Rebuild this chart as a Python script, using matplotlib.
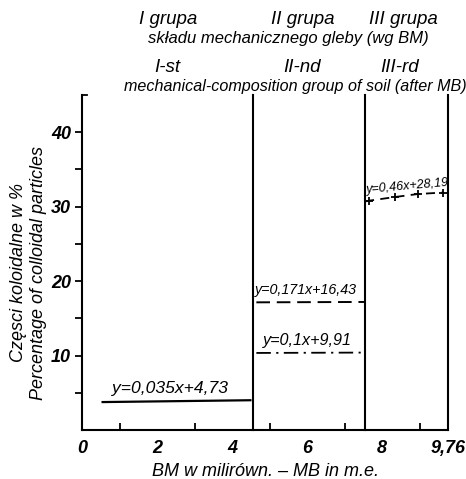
import matplotlib
matplotlib.use("Agg")
import matplotlib.pyplot as plt

plt.rcParams["font.family"] = ["Liberation Sans", "DejaVu Sans"]
plt.rcParams["font.style"] = "italic"

# ---- data ----
x_ticks = [0, 2, 4, 6, 8, 9.76]
x_ticklabels = ["0", "2", "4", "6", "8", "9,76"]
x_minor = [1, 3, 5, 7, 9]
y_ticks = [10, 20, 30, 40]
y_minor = [5, 15, 25, 35]
group_bounds = [4.55, 7.55, 9.76]

g1_x = [0.52, 4.52]
g1_y = [3.75, 4.0]
g2a_x = [4.65, 7.55]
g2a_y = [17.15, 17.2]
g2b_x = [4.65, 7.55]
g2b_y = [10.35, 10.4]
g3_x = [7.55, 7.65, 8.35, 8.96, 9.63]
g3_y = [30.7, 30.8, 31.3, 31.7, 31.9]
g3_mark_x = [7.65, 8.35, 8.96, 9.63]
g3_mark_y = [30.8, 31.3, 31.7, 31.9]

eq1 = "y=0,035x+4,73"
eq2a = "y=0,171x+16,43"
eq2b = "y=0,1x+9,91"
eq3 = "y=0,46x+28,19"

fig = plt.figure(figsize=(4.66, 4.79), dpi=100)
ax = fig.add_axes([82/466, 1-430/479, (448-82)/466, (430-95)/479])
ax.set_xlim(0, 9.76)
ax.set_ylim(0, 45)

lw = 1.5
ax.plot(g1_x, g1_y, color="black", lw=1.6, solid_capstyle="butt")
ax.plot(g2a_x, g2a_y, color="black", lw=1.4, dashes=(7, 3.5))
ax.plot(g2b_x, g2b_y, color="black", lw=1.3, dashes=(8, 3, 1.2, 3))
ax.plot(g3_x, g3_y, color="black", lw=1.3, dashes=(5, 3.5))
ax.plot(g3_mark_x, g3_mark_y, ls="none", marker="+", ms=6, mew=1.3, color="black")

for b in group_bounds:
    ax.plot([b, b], [0, 45], color="black", lw=lw, clip_on=False)

for s in ["top", "right"]:
    ax.spines[s].set_visible(False)
for s in ["left", "bottom"]:
    ax.spines[s].set_linewidth(lw)

ax.set_xticks(x_ticks)
ax.set_xticklabels(x_ticklabels)
ax.set_xticks(x_minor, minor=True)
ax.tick_params(axis="x", which="major", length=0, pad=7)
ax.tick_params(axis="x", which="minor", direction="in", length=5, width=1.3)
ax.set_yticks(y_ticks)
ax.set_yticks(y_minor, minor=True)
ax.tick_params(axis="y", which="both", direction="out", length=5, width=1.3, pad=3)
for lab in ax.get_xticklabels() + ax.get_yticklabels():
    lab.set_fontsize(13)
    lab.set_fontweight("bold")
# top hook of y axis
ax.plot([0, 0.12], [45, 45], color="black", lw=1.3, clip_on=False)

ax.set_xlabel("BM w milirówn. – MB in m.e.", fontsize=13, va="center")
ax.xaxis.set_label_coords(0.5, (430-471)/335)
ax.set_ylabel("Częsci koloidalne w %\nPercentage of colloidal particles",
              fontsize=13, va="center", linespacing=1.25)
ax.yaxis.set_label_coords((28.5-82)/366, 0.47)

ax.text(0.8, 4.6, eq1, fontsize=12.6, ha="left", va="bottom")
ax.text(4.61, 17.8, eq2a, fontsize=10.3, ha="left", va="bottom")
ax.text(4.83, 11.0, eq2b, fontsize=11.6, ha="left", va="bottom")
ax.text(7.57, 31.4, eq3, fontsize=9, ha="left", va="bottom", rotation=5)

big = dict(fontsize=13.5, ha="center", va="center")
small = dict(fontsize=12, ha="center", va="center")
fig.text(168/466, 1-20/479, "I grupa", **big)
fig.text(303/466, 1-20/479, "II grupa", **big)
fig.text(403/466, 1-20/479, "III grupa", **big)
fig.text(288/466, 1-39/479, "składu mechanicznego gleby (wg BM)", **small)
fig.text(167/466, 1-68/479, "I-st", **big)
fig.text(302/466, 1-68/479, "II-nd", **big)
fig.text(400/466, 1-68/479, "III-rd", **big)
fig.text(295/466, 1-86/479, "mechanical-composition group of soil (after MB)",
         fontsize=11.6, ha="center", va="center")

fig.savefig("out.png", dpi=100)
